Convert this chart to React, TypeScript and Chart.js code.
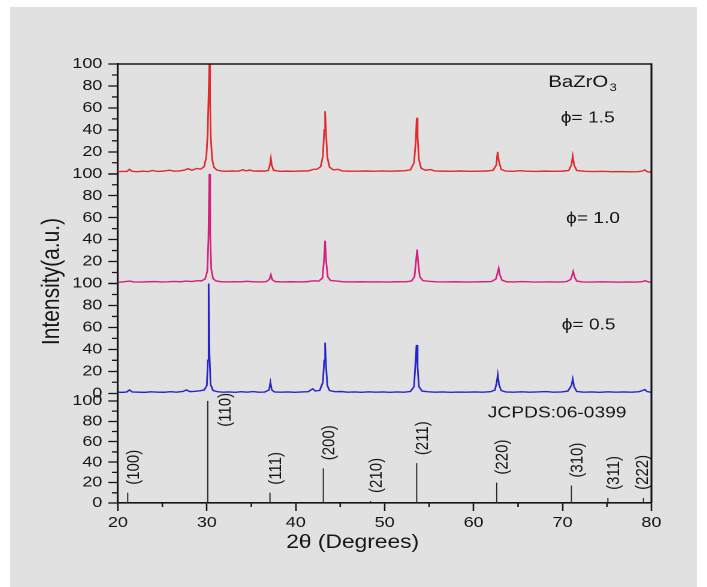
import React, { useEffect, useRef } from 'react';
import { Chart, registerables } from 'chart.js';

Chart.register(...registerables);

const FONT = "'Liberation Sans', Arial, Helvetica, sans-serif";
const INK = '#161616';

// Diffraction patterns, [2θ (deg), normalised intensity (%)]
const phi15: [number, number][] = [
  [20.0, 1.8], [20.5, 2.2], [21.0, 2.0], [21.3, 4.0], [21.6, 2.2], [22.2, 1.9], [22.8, 2.3],
  [23.4, 2.0], [23.9, 3.0], [24.2, 2.4], [24.6, 2.1], [25.2, 2.5], [25.8, 3.2], [26.3, 2.3],
  [26.9, 2.6], [27.5, 3.4], [27.9, 4.6], [28.3, 3.2], [28.9, 4.8], [29.3, 4.2], [29.7, 6.5],
  [29.95, 16], [30.1, 38], [30.2, 72], [30.28, 100], [30.36, 68], [30.45, 32], [30.6, 13],
  [30.8, 6], [31.1, 3.5], [31.6, 2.6], [32.2, 2.2], [32.8, 2.5], [33.5, 2.3], [34.1, 3.6],
  [34.4, 2.6], [34.8, 3.4], [35.3, 2.3], [35.9, 2.5], [36.5, 2.4], [36.9, 3.0], [37.1, 8],
  [37.2, 14], [37.3, 8], [37.5, 3.2], [38.2, 2.2], [39.0, 2.4], [39.8, 2.2], [40.6, 2.5],
  [41.4, 2.6], [42.0, 4.0], [42.4, 4.2], [42.8, 6.5], [43.05, 16], [43.2, 40], [43.3, 57],
  [43.4, 38], [43.55, 15], [43.8, 6], [44.2, 3.6], [44.8, 4.0], [45.2, 2.6], [46.0, 2.4],
  [47.0, 2.3], [48.0, 2.5], [48.8, 2.2], [49.6, 2.6], [50.5, 2.3], [51.4, 2.5], [52.3, 2.8],
  [52.9, 3.5], [53.3, 10], [53.5, 30], [53.6, 51], [53.7, 34], [53.85, 13], [54.1, 5],
  [54.6, 3.2], [55.2, 3.8], [55.6, 2.6], [56.5, 2.4], [57.5, 2.2], [58.5, 2.5], [59.5, 2.2],
  [60.5, 2.3], [61.5, 2.5], [62.2, 3.2], [62.55, 8], [62.7, 20], [62.85, 11], [63.1, 4],
  [63.6, 2.4], [64.5, 2.2], [65.2, 2.8], [66.0, 2.3], [67.0, 2.1], [68.0, 2.4], [69.0, 2.2],
  [70.0, 2.4], [70.7, 3.0], [71.0, 8], [71.15, 16], [71.3, 8], [71.6, 3.0], [72.5, 2.2],
  [73.5, 2.0], [74.5, 2.2], [75.5, 1.9], [76.5, 2.0], [77.5, 1.8], [78.5, 1.9], [79.0, 2.5],
  [79.25, 3.5], [79.5, 2.0], [80.0, 1.2],
];

const phi10: [number, number][] = [
  [20.0, 1.2], [20.6, 1.5], [21.3, 2.2], [21.8, 1.4], [22.6, 1.3], [23.4, 1.6], [24.2, 1.8],
  [24.8, 1.4], [25.6, 1.5], [26.3, 1.9], [27.0, 1.5], [27.7, 2.2], [28.3, 1.8], [28.9, 2.6],
  [29.4, 2.4], [29.8, 4.0], [30.05, 11], [30.18, 40], [30.28, 100], [30.38, 45], [30.5, 13],
  [30.7, 4.5], [31.0, 2.4], [31.6, 1.6], [32.3, 1.4], [33.0, 1.6], [33.8, 1.5], [34.5, 2.0],
  [35.2, 1.6], [36.0, 1.4], [36.7, 1.8], [37.05, 4], [37.2, 8], [37.35, 3.5], [37.7, 1.7],
  [38.5, 1.4], [39.4, 1.6], [40.3, 1.4], [41.2, 1.6], [42.0, 2.4], [42.6, 2.2], [43.0, 5],
  [43.18, 22], [43.3, 39], [43.42, 20], [43.6, 6], [43.9, 2.8], [44.6, 2.2], [45.3, 1.6],
  [46.3, 1.4], [47.3, 1.6], [48.3, 1.4], [49.3, 1.5], [50.3, 1.3], [51.3, 1.6], [52.3, 1.5],
  [53.0, 2.2], [53.35, 6], [53.52, 20], [53.65, 31], [53.78, 18], [53.95, 6], [54.3, 2.6],
  [55.0, 2.0], [55.8, 1.5], [57.0, 1.4], [58.0, 1.6], [59.0, 1.3], [60.0, 1.4], [61.0, 1.6],
  [62.0, 1.8], [62.5, 4], [62.7, 10], [62.82, 14], [62.95, 8], [63.2, 3], [63.7, 1.6],
  [64.6, 1.4], [65.5, 1.8], [66.5, 1.4], [67.5, 1.3], [68.5, 1.5], [69.5, 1.3], [70.4, 1.6],
  [70.9, 3.5], [71.1, 8], [71.2, 11], [71.35, 6], [71.6, 2.2], [72.3, 1.4], [73.3, 1.3],
  [74.3, 1.5], [75.3, 1.4], [76.3, 1.2], [77.3, 1.4], [78.3, 1.3], [79.0, 1.8], [79.3, 2.6],
  [79.6, 1.5], [80.0, 1.1],
];

const phi05: [number, number][] = [
  [20.0, 1.0], [20.5, 0.8], [21.0, 1.2], [21.3, 3.0], [21.6, 1.2], [22.3, 1.0], [23.0, 0.8],
  [23.7, 1.3], [24.5, 1.0], [25.2, 0.9], [25.9, 1.4], [26.6, 1.0], [27.3, 1.6], [27.7, 3.0],
  [28.1, 1.5], [28.7, 1.8], [29.2, 2.2], [29.7, 3.0], [30.0, 7], [30.12, 30], [30.2, 100],
  [30.3, 35], [30.42, 8], [30.7, 2.5], [31.2, 1.4], [31.8, 1.0], [32.5, 1.2], [33.2, 0.9],
  [33.9, 1.4], [34.5, 1.0], [35.2, 1.5], [35.8, 1.0], [36.5, 1.1], [37.0, 3], [37.15, 10],
  [37.3, 3], [37.6, 1.2], [38.3, 1.0], [39.1, 1.2], [39.9, 0.9], [40.7, 1.2], [41.4, 1.4],
  [41.9, 4], [42.2, 2], [42.7, 2.6], [43.05, 10], [43.2, 30], [43.3, 46], [43.4, 26],
  [43.55, 7], [43.8, 2.5], [44.4, 1.4], [45.1, 1.6], [45.8, 1.0], [46.6, 1.2], [47.4, 0.9],
  [48.2, 1.3], [49.0, 1.0], [49.8, 1.2], [50.6, 0.9], [51.4, 1.2], [52.2, 1.0], [52.9, 1.6],
  [53.3, 6], [53.48, 30], [53.58, 44], [53.7, 24], [53.85, 6], [54.2, 2], [54.8, 1.4],
  [55.6, 1.0], [56.5, 1.2], [57.4, 0.9], [58.3, 1.1], [59.2, 1.0], [60.1, 1.2], [61.0, 1.0],
  [61.9, 1.4], [62.4, 3], [62.6, 10], [62.72, 17], [62.85, 8], [63.1, 2.5], [63.6, 1.2],
  [64.5, 1.0], [65.4, 1.3], [66.3, 1.0], [67.2, 1.2], [68.1, 1.5], [69.0, 1.0], [69.9, 1.2],
  [70.6, 2.0], [71.0, 7], [71.15, 13], [71.3, 6], [71.6, 1.6], [72.4, 1.0], [73.3, 1.2],
  [74.2, 0.9], [75.1, 1.3], [76.0, 1.0], [76.9, 1.2], [77.8, 1.0], [78.6, 1.4], [79.05, 2.6],
  [79.25, 3.4], [79.5, 1.6], [80.0, 0.8],
];

// JCPDS 06-0399 reference reflections
const refPositions = [21.1, 30.1, 37.1, 43.1, 48.4, 53.6, 62.6, 71.0, 75.1, 79.1];
const refHeights = [10, 100, 10, 34, 2, 39, 20, 17, 5, 5];
const refLabels = ['(100)', '(110)', '(111)', '(200)', '(210)', '(211)', '(220)', '(310)', '(311)', '(222)'];

const seriesNames = ['\u03d5= 1.5', '\u03d5= 1.0', '\u03d5= 0.5'];
const seriesColors = ['#e2292b', '#d4207c', '#2626c8'];
const cardName = 'JCPDS:06-0399';
const compound = 'BaZrO';
const compoundSub = '3';
const xTitle = '2\u03b8 (Degrees)';
const yTitle = 'Intensity(a.u.)';

const panelIds = ['yA', 'yB', 'yC', 'yD'];

const decorations = {
  id: 'xrdDecorations',
  afterDatasetsDraw(chart: any) {
    const ctx: CanvasRenderingContext2D = chart.ctx;
    const { left, right, top, bottom } = chart.chartArea;
    const xs = chart.scales.x;
    const [yA, yB, yC, yD] = panelIds.map((id) => chart.scales[id]);
    ctx.save();

    // top and right edges of the frame
    ctx.strokeStyle = INK;
    ctx.lineWidth = 1.6;
    ctx.beginPath();
    ctx.moveTo(left, top);
    ctx.lineTo(right, top);
    ctx.lineTo(right, bottom);
    ctx.stroke();

    // minor tick marks
    ctx.lineWidth = 1.3;
    ctx.beginPath();
    for (const s of [yA, yB, yC, yD]) {
      for (let v = 10; v < 100; v += 20) {
        const py = s.getPixelForValue(v);
        ctx.moveTo(left, py);
        ctx.lineTo(left - 5, py);
      }
    }
    for (let v = 25; v < 80; v += 10) {
      const px = xs.getPixelForValue(v);
      ctx.moveTo(px, bottom);
      ctx.lineTo(px, bottom + 4);
    }
    ctx.stroke();

    ctx.fillStyle = INK;
    ctx.textBaseline = 'middle';
    ctx.textAlign = 'left';

    // compound name with subscript
    ctx.font = `17px ${FONT}`;
    const cx = xs.getPixelForValue(68.4);
    const cy = yA.getPixelForValue(83.5);
    ctx.fillText(compound, cx, cy);
    const cw = ctx.measureText(compound).width;
    ctx.font = `11px ${FONT}`;
    ctx.fillText(compoundSub, cx + cw + 1, cy + 6);

    // series labels
    ctx.font = `16px ${FONT}`;
    const labelSpots: [number, any, number][] = [
      [69.8, yA, 50.5],
      [70.4, yB, 59],
      [69.9, yC, 62],
    ];
    labelSpots.forEach(([lx, s, ly], i) => {
      ctx.fillText(seriesNames[i], xs.getPixelForValue(lx), s.getPixelForValue(ly));
    });
    ctx.fillText(cardName, xs.getPixelForValue(61.6), yD.getPixelForValue(88));

    // Miller indices beside the reference sticks
    ctx.font = `15px ${FONT}`;
    refPositions.forEach((p, i) => {
      const label = refLabels[i];
      const w = ctx.measureText(label).width;
      const sx = xs.getPixelForValue(p);
      const sy = yD.getPixelForValue(refHeights[i]);
      const tall = refHeights[i] > 60;
      const lx = Math.min(sx + (tall ? 15 : 5), right - 7);
      const ly = tall ? sy - 8 + w : sy - 8;
      ctx.save();
      ctx.translate(lx, ly);
      ctx.rotate(-Math.PI / 2);
      ctx.fillText(label, 0, 0);
      ctx.restore();
    });

    // axis titles
    ctx.textAlign = 'center';
    ctx.font = `19px ${FONT}`;
    ctx.fillText(xTitle, xs.getPixelForValue(46.4), bottom + 40);
    ctx.save();
    ctx.translate(left - 55, (top + bottom) / 2 - 2);
    ctx.rotate(-Math.PI / 2);
    ctx.font = `21px ${FONT}`;
    ctx.fillText(yTitle, 0, 0);
    ctx.restore();

    ctx.restore();
  },
};

function panelAxis(weight: number, max: number, showZero: boolean) {
  return {
    type: 'linear' as const,
    position: 'left' as const,
    stack: 'panels',
    stackWeight: 1,
    weight,
    min: 0,
    max,
    afterFit: (s: any) => {
      s.width = 90;
    },
    border: { display: true, color: INK, width: 1.6 },
    grid: {
      drawOnChartArea: false,
      drawTicks: true,
      tickLength: 8,
      tickWidth: 1.3,
      tickColor: (c: any) => (c.tick && c.tick.value % 20 === 0 ? INK : 'rgba(0,0,0,0)'),
    },
    ticks: {
      stepSize: 10,
      includeBounds: false,
      autoSkip: false,
      padding: 5,
      color: INK,
      font: { family: FONT, size: 15 },
      callback: (v: any) => {
        if (v % 20 !== 0) return '';
        if (v === 0 && !showZero) return '';
        return String(v);
      },
    },
  };
}

export default function App() {
  const canvasRef = useRef<HTMLCanvasElement | null>(null);

  useEffect(() => {
    if (!canvasRef.current) return;
    const sticks: { x: number; y: number | null }[] = [];
    refPositions.forEach((p, i) => {
      sticks.push({ x: p, y: 0 }, { x: p, y: refHeights[i] }, { x: p, y: null });
    });

    const chart = new Chart(canvasRef.current, {
      type: 'line',
      data: {
        datasets: [
          { label: seriesNames[0], data: phi15, yAxisID: 'yA', borderColor: seriesColors[0] },
          { label: seriesNames[1], data: phi10, yAxisID: 'yB', borderColor: seriesColors[1] },
          { label: seriesNames[2], data: phi05, yAxisID: 'yC', borderColor: seriesColors[2] },
          {
            label: cardName,
            data: sticks as any,
            yAxisID: 'yD',
            borderColor: '#2a2a2a',
            borderWidth: 1,
            spanGaps: false,
          },
        ].map((d: any) => ({
          borderWidth: 1.4,
          pointRadius: 0,
          tension: 0,
          fill: false,
          ...d,
        })) as any,
      },
      options: {
        animation: false,
        responsive: true,
        maintainAspectRatio: false,
        devicePixelRatio: 2,
        layout: { padding: { top: 57, right: 38, left: 0, bottom: 0 } },
        plugins: { legend: { display: false }, tooltip: { enabled: false } },
        scales: {
          x: {
            type: 'linear',
            position: 'bottom',
            min: 20,
            max: 80,
            afterFit: (s: any) => {
              s.height = 84;
            },
            border: { display: true, color: INK, width: 1.6 },
            grid: {
              drawOnChartArea: false,
              drawTicks: true,
              tickLength: 8,
              tickWidth: 1.3,
              tickColor: (c: any) => (c.tick && c.tick.value % 10 === 0 ? INK : 'rgba(0,0,0,0)'),
            },
            ticks: {
              stepSize: 5,
              autoSkip: false,
              maxRotation: 0,
              padding: 3,
              color: INK,
              font: { family: FONT, size: 15 },
              callback: (v: any) => (v % 10 === 0 ? String(v) : ''),
            },
          },
          yD: panelAxis(1, 107.5, true),
          yC: panelAxis(2, 100, true),
          yB: panelAxis(3, 100, false),
          yA: panelAxis(4, 100, false),
        } as any,
      },
      plugins: [decorations],
    });
    return () => chart.destroy();
  }, []);

  return (
    <div
      style={{
        position: 'absolute',
        left: 10,
        top: 7,
        width: 687,
        height: 580,
        background: '#e1e1e1',
        overflow: 'hidden',
      }}
    >
      <div
        style={{
          position: 'relative',
          width: 573,
          height: 580,
          transform: `scaleX(${687 / 573})`,
          transformOrigin: '0 0',
        }}
      >
        <canvas ref={canvasRef} />
      </div>
    </div>
  );
}
